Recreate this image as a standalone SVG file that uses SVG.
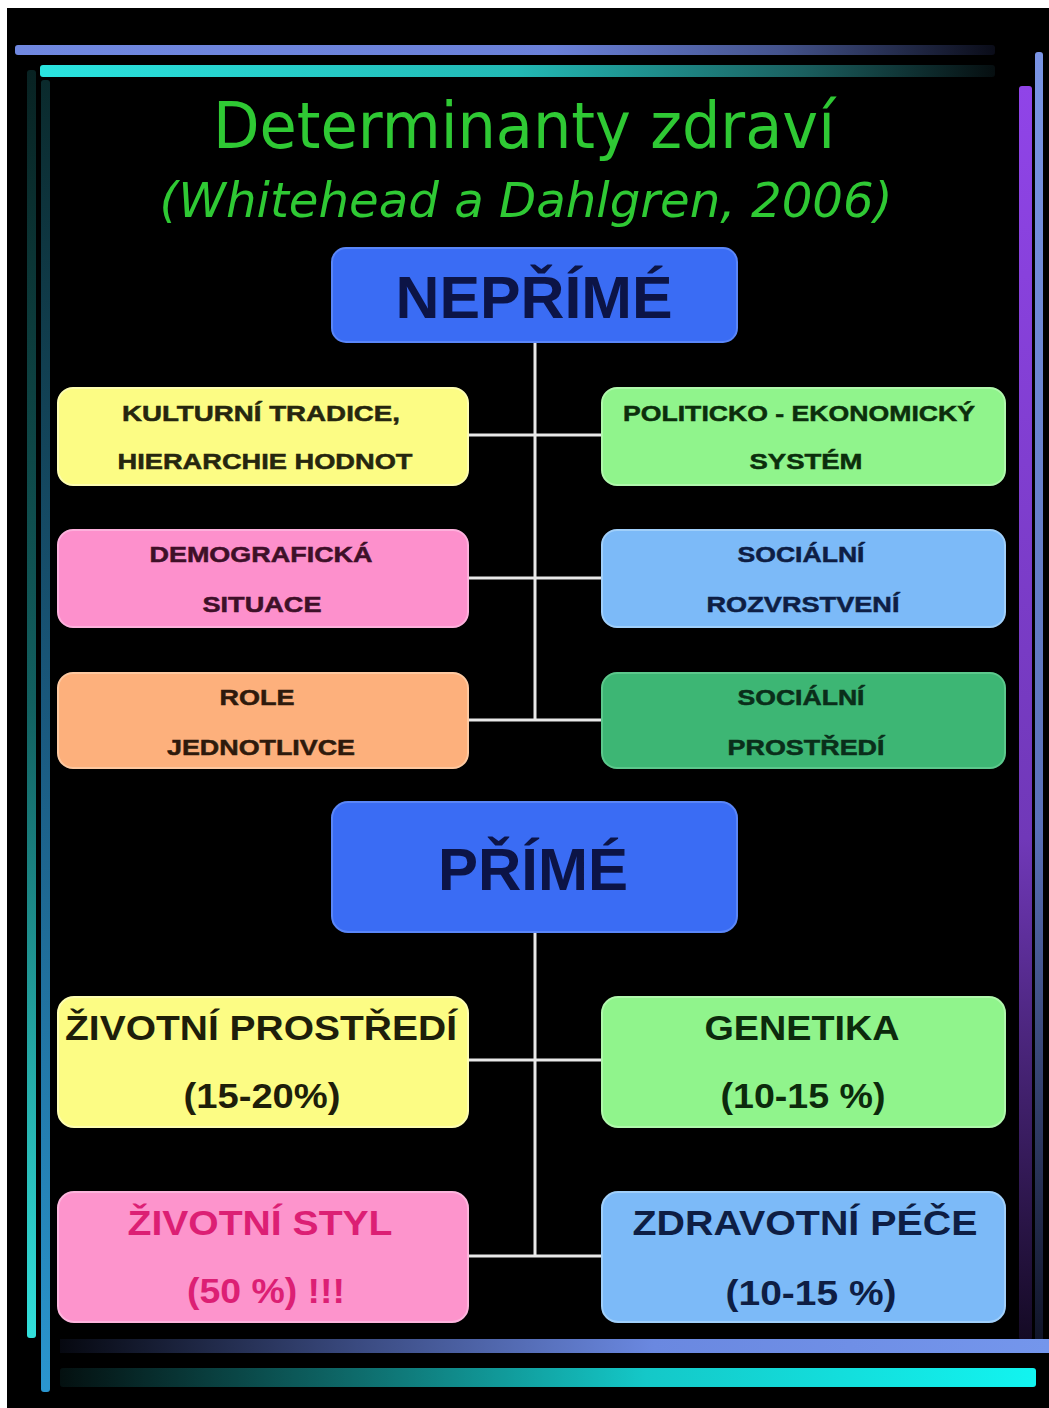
<svg xmlns="http://www.w3.org/2000/svg" width="1049" height="1408" viewBox="0 0 1049 1408">
<defs>
<style>
.bx{stroke-width:2;}
.sm{font-family:"Liberation Sans",Arial,sans-serif;font-weight:bold;font-size:22px;text-anchor:middle;stroke-width:0.5;}
.bg{font-family:"Liberation Sans",Arial,sans-serif;font-weight:bold;font-size:35px;text-anchor:middle;}
.hd{font-family:"Liberation Sans",Arial,sans-serif;font-weight:bold;font-size:60px;text-anchor:middle;fill:#0c1446;}
.conn{stroke:#e8e8e8;stroke-width:3;fill:none;}
</style>
<linearGradient id="gTopBlue" x1="0" y1="0" x2="1" y2="0">
<stop offset="0" stop-color="#7088e0"/><stop offset="0.55" stop-color="#6a80d8"/><stop offset="0.78" stop-color="#44538c"/><stop offset="1" stop-color="#0a0c18"/>
</linearGradient>
<linearGradient id="gTopCyan" x1="0" y1="0" x2="1" y2="0">
<stop offset="0" stop-color="#2ae4e0"/><stop offset="0.5" stop-color="#22b8b4"/><stop offset="0.8" stop-color="#1a5e5e"/><stop offset="1" stop-color="#060e10"/>
</linearGradient>
<linearGradient id="gLeftCyan" x1="0" y1="0" x2="0" y2="1">
<stop offset="0" stop-color="#082222"/><stop offset="0.5" stop-color="#126060"/><stop offset="1" stop-color="#32e0dc"/>
</linearGradient>
<linearGradient id="gLeftBlue" x1="0" y1="0" x2="0" y2="1">
<stop offset="0" stop-color="#0a2a2c"/><stop offset="0.5" stop-color="#1a5a80"/><stop offset="1" stop-color="#2a96d0"/>
</linearGradient>
<linearGradient id="gRightBlue" x1="0" y1="0" x2="0" y2="1">
<stop offset="0" stop-color="#7a94e4"/><stop offset="0.6" stop-color="#5a70b8"/><stop offset="1" stop-color="#101428"/>
</linearGradient>
<linearGradient id="gRightPurple" x1="0" y1="0" x2="0" y2="1">
<stop offset="0" stop-color="#9044e8"/><stop offset="0.6" stop-color="#7038b8"/><stop offset="1" stop-color="#140a24"/>
</linearGradient>
<linearGradient id="gBotBlue" x1="0" y1="0" x2="1" y2="0">
<stop offset="0" stop-color="#060810"/><stop offset="0.3" stop-color="#3a4a80"/><stop offset="0.6" stop-color="#6a88e0"/><stop offset="1" stop-color="#7496ec"/>
</linearGradient>
<linearGradient id="gBotCyan" x1="0" y1="0" x2="1" y2="0">
<stop offset="0" stop-color="#041010"/><stop offset="0.3" stop-color="#0e6a6a"/><stop offset="0.6" stop-color="#14c8c8"/><stop offset="1" stop-color="#12f4f0"/>
</linearGradient>
</defs>

<rect x="0" y="0" width="1049" height="1408" fill="#ffffff"/>
<rect x="7" y="8" width="1042" height="1400" fill="#000000"/>

<g id="frame">
<rect x="15" y="45" width="980" height="10" rx="3" fill="url(#gTopBlue)"/>
<rect x="40" y="65" width="955" height="12" rx="3" fill="url(#gTopCyan)"/>
<rect x="27" y="70" width="9" height="1268" rx="3" fill="url(#gLeftCyan)"/>
<rect x="41" y="80" width="9" height="1312" rx="3" fill="url(#gLeftBlue)"/>
<rect x="1035" y="52" width="8" height="1290" rx="3" fill="url(#gRightBlue)"/>
<rect x="1019" y="86" width="13" height="1254" rx="3" fill="url(#gRightPurple)"/>
<rect x="60" y="1339" width="989" height="14" fill="url(#gBotBlue)"/>
<rect x="60" y="1368" width="976" height="19" rx="3" fill="url(#gBotCyan)"/>
</g>

<g id="title">
<text x="524" y="148" font-family="'DejaVu Sans',Verdana,sans-serif" font-size="64" fill="#2fc934" text-anchor="middle" textLength="622" lengthAdjust="spacingAndGlyphs">Determinanty zdraví</text>
<text x="526" y="217" font-family="'DejaVu Sans',Verdana,sans-serif" font-style="italic" font-size="48" fill="#2fc934" text-anchor="middle" textLength="733" lengthAdjust="spacingAndGlyphs">(Whitehead a Dahlgren, 2006)</text>
</g>

<g id="connectors">
<path class="conn" d="M535,342 V720"/>
<path class="conn" d="M468,435 H602"/>
<path class="conn" d="M468,578 H602"/>
<path class="conn" d="M468,720 H602"/>
<path class="conn" d="M535,932 V1256"/>
<path class="conn" d="M468,1060 H602"/>
<path class="conn" d="M468,1256 H602"/>
</g>

<g id="neprime">
<rect class="bx" x="332" y="248" width="405" height="94" rx="14" fill="#3a6cf4" stroke="#5a86f8"/>
<text class="hd" x="534" y="318" textLength="277" lengthAdjust="spacingAndGlyphs">NEPŘÍMÉ</text>
</g>

<g id="kulturni">
<rect class="bx" x="58" y="388" width="410" height="97" rx="15" fill="#fcfc84" stroke="#fdfdb0"/>
<text class="sm" x="261" y="421" fill="#26260e" stroke="#26260e" textLength="278" lengthAdjust="spacingAndGlyphs">KULTURNÍ TRADICE,</text>
<text class="sm" x="265" y="469" fill="#26260e" stroke="#26260e" textLength="295" lengthAdjust="spacingAndGlyphs">HIERARCHIE HODNOT</text>
</g>

<g id="politicko">
<rect class="bx" x="602" y="388" width="403" height="97" rx="15" fill="#90f48c" stroke="#b0f8ac"/>
<text class="sm" x="799" y="421" fill="#0c2e0c" stroke="#0c2e0c" textLength="352" lengthAdjust="spacingAndGlyphs">POLITICKO - EKONOMICKÝ</text>
<text class="sm" x="806" y="469" fill="#0c2e0c" stroke="#0c2e0c" textLength="113" lengthAdjust="spacingAndGlyphs">SYSTÉM</text>
</g>

<g id="demograficka">
<rect class="bx" x="58" y="530" width="410" height="97" rx="15" fill="#fd90cc" stroke="#fdb0dc"/>
<text class="sm" x="261" y="562" fill="#3e1028" stroke="#3e1028" textLength="223" lengthAdjust="spacingAndGlyphs">DEMOGRAFICKÁ</text>
<text class="sm" x="262" y="612" fill="#3e1028" stroke="#3e1028" textLength="119" lengthAdjust="spacingAndGlyphs">SITUACE</text>
</g>

<g id="socialni-rozvrstveni">
<rect class="bx" x="602" y="530" width="403" height="97" rx="15" fill="#7cbaf8" stroke="#a0cffa"/>
<text class="sm" x="801" y="562" fill="#0e1e44" stroke="#0e1e44" textLength="127" lengthAdjust="spacingAndGlyphs">SOCIÁLNÍ</text>
<text class="sm" x="803" y="612" fill="#0e1e44" stroke="#0e1e44" textLength="193" lengthAdjust="spacingAndGlyphs">ROZVRSTVENÍ</text>
</g>

<g id="role">
<rect class="bx" x="58" y="673" width="410" height="95" rx="15" fill="#fdb07c" stroke="#fdc8a0"/>
<text class="sm" x="257" y="705" fill="#2e1a0c" stroke="#2e1a0c" textLength="75" lengthAdjust="spacingAndGlyphs">ROLE</text>
<text class="sm" x="261" y="755" fill="#2e1a0c" stroke="#2e1a0c" textLength="188" lengthAdjust="spacingAndGlyphs">JEDNOTLIVCE</text>
</g>

<g id="socialni-prostredi">
<rect class="bx" x="602" y="673" width="403" height="95" rx="15" fill="#3db674" stroke="#5cc88c"/>
<text class="sm" x="801" y="705" fill="#0a2e1a" stroke="#0a2e1a" textLength="127" lengthAdjust="spacingAndGlyphs">SOCIÁLNÍ</text>
<text class="sm" x="806" y="755" fill="#0a2e1a" stroke="#0a2e1a" textLength="157" lengthAdjust="spacingAndGlyphs">PROSTŘEDÍ</text>
</g>

<g id="prime">
<rect class="bx" x="332" y="802" width="405" height="130" rx="16" fill="#3a6cf4" stroke="#5a86f8"/>
<text class="hd" x="533" y="890" textLength="190" lengthAdjust="spacingAndGlyphs">PŘÍMÉ</text>
</g>

<g id="zivotni-prostredi">
<rect class="bx" x="58" y="997" width="410" height="130" rx="16" fill="#fcfc84" stroke="#fdfdb0"/>
<text class="bg" x="261" y="1040" fill="#1e1e0a" textLength="392" lengthAdjust="spacingAndGlyphs">ŽIVOTNÍ PROSTŘEDÍ</text>
<text class="bg" x="262" y="1108" fill="#1e1e0a" textLength="157" lengthAdjust="spacingAndGlyphs">(15-20%)</text>
</g>

<g id="genetika">
<rect class="bx" x="602" y="997" width="403" height="130" rx="16" fill="#90f48c" stroke="#b0f8ac"/>
<text class="bg" x="802" y="1040" fill="#0c2a0c" textLength="195" lengthAdjust="spacingAndGlyphs">GENETIKA</text>
<text class="bg" x="803" y="1108" fill="#0c2a0c" textLength="165" lengthAdjust="spacingAndGlyphs">(10-15 %)</text>
</g>

<g id="zivotni-styl">
<rect class="bx" x="58" y="1192" width="410" height="130" rx="16" fill="#fd94cc" stroke="#fdb4dc"/>
<text class="bg" x="260" y="1235" fill="#dc1f74" textLength="265" lengthAdjust="spacingAndGlyphs">ŽIVOTNÍ STYL</text>
<text class="bg" x="266" y="1303" fill="#dc1f74" textLength="158" lengthAdjust="spacingAndGlyphs">(50 %) !!!</text>
</g>

<g id="zdravotni-pece">
<rect class="bx" x="602" y="1192" width="403" height="130" rx="16" fill="#7cbaf8" stroke="#a0cffa"/>
<text class="bg" x="805" y="1235" fill="#0e1e44" textLength="345" lengthAdjust="spacingAndGlyphs">ZDRAVOTNÍ PÉČE</text>
<text class="bg" x="811" y="1305" fill="#0e1e44" textLength="171" lengthAdjust="spacingAndGlyphs">(10-15 %)</text>
</g>
</svg>
